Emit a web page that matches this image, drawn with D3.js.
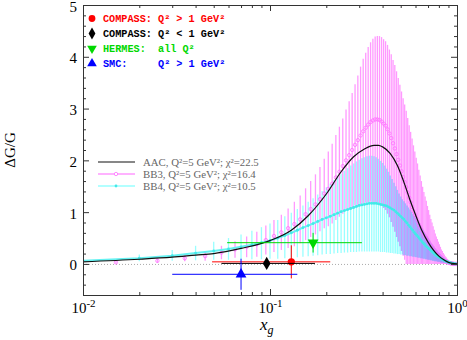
<!DOCTYPE html>
<html>
<head>
<meta charset="utf-8">
<script src="https://cdn.jsdelivr.net/npm/d3@7"></script>
<style>
    body { margin: 0; background: #fff; }
    #chart { width: 467px; height: 340px; }
    .tick text { font-family: "Liberation Serif", "DejaVu Serif", serif; font-size: 15px; fill: #000; }
    .axis line { stroke: #333; }
    .axis path { display: none; }
</style>
</head>
<body>
<div id="chart"></div>
<script>
// ---- AAC curve ----
const aacX = [0.01, 0.02, 0.03, 0.04, 0.05, 0.07, 0.1, 0.13, 0.16, 0.2, 0.24, 0.28, 0.32, 0.36, 0.38, 0.4,
    0.44, 0.48, 0.52, 0.56, 0.6, 0.65, 0.7, 0.75, 0.8, 0.85, 0.9, 0.95, 1.0];
const aacVal = [0.04, 0.09, 0.13, 0.17, 0.2, 0.3, 0.45, 0.65, 0.93, 1.35, 1.78, 2.07, 2.22, 2.29, 2.29, 2.26,
    2.13, 1.9, 1.58, 1.24, 0.95, 0.64, 0.42, 0.26, 0.15, 0.08, 0.03, 0.01, 0];

// ---- BB3 (central value + error) ----
const bb3X = [0.015, 0.025, 0.035, 0.045, 0.055, 0.065, 0.075, 0.085, 0.095, 0.105,
    0.115, 0.125, 0.135, 0.145, 0.155, 0.165, 0.175, 0.185, 0.195, 0.205,
    0.215, 0.225, 0.235, 0.245, 0.255, 0.265, 0.275, 0.285, 0.295, 0.305,
    0.315, 0.325, 0.335, 0.345, 0.355, 0.365, 0.375, 0.385, 0.395, 0.405,
    0.415, 0.425, 0.435, 0.445, 0.455, 0.465, 0.475, 0.485, 0.495, 0.505,
    0.515, 0.525, 0.535, 0.545, 0.555, 0.565, 0.575, 0.585, 0.595, 0.605,
    0.615, 0.625, 0.635, 0.645, 0.655, 0.665, 0.675, 0.685, 0.695, 0.705,
    0.715, 0.725, 0.735, 0.745, 0.755, 0.765, 0.775, 0.785, 0.795, 0.805,
    0.815, 0.825, 0.835, 0.845, 0.855, 0.865, 0.875, 0.885, 0.895, 0.905,
    0.915, 0.925, 0.935, 0.945, 0.955, 0.965, 0.975, 0.985, 0.995];
const bb3Mid = [0.03, 0.06, 0.11, 0.15, 0.22, 0.28, 0.33, 0.38, 0.46, 0.54,
    0.61, 0.69, 0.77, 0.86, 0.96, 1.06, 1.15, 1.25, 1.36, 1.45,
    1.55, 1.67, 1.78, 1.89, 2.00, 2.10, 2.20, 2.30, 2.39, 2.48,
    2.56, 2.63, 2.69, 2.74, 2.77, 2.79, 2.79, 2.78, 2.75, 2.71,
    2.67, 2.60, 2.52, 2.43, 2.33, 2.23, 2.12, 2.01, 1.90, 1.79,
    1.68, 1.58, 1.48, 1.38, 1.28, 1.19, 1.10, 1.02, 0.95, 0.88,
    0.82, 0.76, 0.71, 0.66, 0.61, 0.57, 0.53, 0.50, 0.46, 0.43,
    0.39, 0.36, 0.33, 0.30, 0.27, 0.24, 0.21, 0.19, 0.17, 0.15,
    0.13, 0.11, 0.10, 0.08, 0.07, 0.06, 0.05, 0.04, 0.03, 0.02,
    0.02, 0.01, 0.01, 0.01, 0, 0, 0, 0, 0];
const bb3Err = [0.02, 0.04, 0.06, 0.09, 0.13, 0.16, 0.20, 0.24, 0.28, 0.31,
    0.34, 0.38, 0.43, 0.46, 0.50, 0.54, 0.58, 0.62, 0.67, 0.72,
    0.77, 0.82, 0.87, 0.92, 0.98, 1.04, 1.10, 1.17, 1.25, 1.33,
    1.40, 1.45, 1.50, 1.54, 1.58, 1.60, 1.61, 1.62, 1.63, 1.63,
    1.63, 1.63, 1.62, 1.62, 1.61, 1.61, 1.60, 1.58, 1.56, 1.54,
    1.52, 1.50, 1.48, 1.44, 1.40, 1.36, 1.32, 1.27, 1.22, 1.17,
    1.12, 1.06, 1.00, 0.94, 0.88, 0.82, 0.77, 0.72, 0.66, 0.61,
    0.56, 0.51, 0.47, 0.43, 0.39, 0.35, 0.32, 0.29, 0.26, 0.23,
    0.20, 0.17, 0.15, 0.13, 0.11, 0.09, 0.08, 0.06, 0.05, 0.04,
    0.03, 0.02, 0.02, 0.01, 0.01, 0.01, 0, 0, 0];

// ---- BB4 (central value, upper and lower edge) ----
const bb4X = [0.01, 0.02, 0.03, 0.04, 0.05, 0.06, 0.07, 0.08, 0.09, 0.10,
    0.11, 0.12, 0.13, 0.14, 0.15, 0.16, 0.17, 0.18, 0.19, 0.20,
    0.21, 0.22, 0.23, 0.24, 0.25, 0.26, 0.27, 0.28, 0.29, 0.30,
    0.31, 0.32, 0.33, 0.34, 0.35, 0.36, 0.37, 0.38, 0.39, 0.40,
    0.41, 0.42, 0.43, 0.44, 0.45, 0.46, 0.47, 0.48, 0.49, 0.50,
    0.51, 0.52, 0.53, 0.54, 0.55, 0.56, 0.57, 0.58, 0.59, 0.60,
    0.61, 0.62, 0.63, 0.64, 0.65, 0.66, 0.67, 0.68, 0.69, 0.70,
    0.71, 0.72, 0.73, 0.74, 0.75, 0.76, 0.77, 0.78, 0.79, 0.80,
    0.81, 0.82, 0.83, 0.84, 0.85, 0.86, 0.87, 0.88, 0.89, 0.90,
    0.91, 0.92, 0.93, 0.94, 0.95, 0.96, 0.97, 0.98, 0.99];
const bb4Mid = [0.06, 0.11, 0.16, 0.21, 0.25, 0.29, 0.33, 0.37, 0.41, 0.45,
    0.50, 0.55, 0.60, 0.65, 0.70, 0.74, 0.78, 0.82, 0.86, 0.89,
    0.92, 0.95, 0.98, 1.01, 1.03, 1.05, 1.07, 1.09, 1.11, 1.13,
    1.14, 1.15, 1.16, 1.17, 1.17, 1.17, 1.17, 1.16, 1.15, 1.14,
    1.13, 1.12, 1.10, 1.08, 1.06, 1.04, 1.01, 0.98, 0.95, 0.92,
    0.89, 0.86, 0.82, 0.79, 0.75, 0.72, 0.68, 0.65, 0.61, 0.58,
    0.55, 0.52, 0.49, 0.46, 0.43, 0.40, 0.38, 0.35, 0.33, 0.31,
    0.29, 0.27, 0.25, 0.23, 0.21, 0.19, 0.17, 0.16, 0.14, 0.13,
    0.12, 0.10, 0.09, 0.08, 0.07, 0.06, 0.05, 0.05, 0.04, 0.03,
    0.03, 0.02, 0.02, 0.01, 0.01, 0.01, 0, 0, 0];
const bb4Hi = [0.09, 0.18, 0.27, 0.35, 0.43, 0.50, 0.57, 0.64, 0.71, 0.78,
    0.85, 0.92, 0.99, 1.06, 1.13, 1.20, 1.27, 1.34, 1.41, 1.48,
    1.55, 1.62, 1.68, 1.74, 1.80, 1.85, 1.90, 1.94, 1.98, 2.01,
    2.04, 2.06, 2.08, 2.09, 2.09, 2.08, 2.06, 2.03, 1.99, 1.95,
    1.90, 1.84, 1.78, 1.71, 1.64, 1.57, 1.50, 1.43, 1.36, 1.30,
    1.25, 1.21, 1.17, 1.13, 1.09, 1.05, 1.01, 0.97, 0.93, 0.89,
    0.85, 0.81, 0.77, 0.73, 0.69, 0.65, 0.61, 0.57, 0.53, 0.50,
    0.46, 0.43, 0.40, 0.37, 0.34, 0.31, 0.28, 0.26, 0.23, 0.21,
    0.19, 0.17, 0.15, 0.13, 0.12, 0.10, 0.09, 0.07, 0.06, 0.05,
    0.04, 0.03, 0.03, 0.02, 0.02, 0.01, 0.01, 0, 0];
const bb4Lo = [0.03, 0.05, 0.06, 0.07, 0.08, 0.08, 0.09, 0.09, 0.09, 0.10,
    0.10, 0.11, 0.12, 0.13, 0.14, 0.15, 0.16, 0.17, 0.18, 0.19,
    0.19, 0.20, 0.21, 0.21, 0.22, 0.22, 0.23, 0.23, 0.23, 0.24,
    0.24, 0.24, 0.24, 0.24, 0.24, 0.24, 0.24, 0.24, 0.23, 0.23,
    0.23, 0.22, 0.22, 0.21, 0.21, 0.20, 0.20, 0.19, 0.19, 0.18,
    0.18, 0.17, 0.17, 0.16, 0.16, 0.15, 0.15, 0.14, 0.14, 0.13,
    0.13, 0.12, 0.12, 0.11, 0.11, 0.10, 0.10, 0.09, 0.09, 0.08,
    0.08, 0.07, 0.07, 0.06, 0.06, 0.05, 0.05, 0.05, 0.04, 0.04,
    0.04, 0.03, 0.03, 0.03, 0.02, 0.02, 0.02, 0.02, 0.01, 0.01,
    0.01, 0.01, 0.01, 0, 0, 0, 0, 0, 0];

// ---- measurements ----
const expNames = ["COMPASS high", "COMPASS low", "HERMES", "SMC"];
const expX = [0.13, 0.096, 0.17, 0.07];
const expXLo = [0.049, 0.055, 0.059, 0.030];
const expXHi = [0.21, 0.174, 0.31, 0.14];
const expY = [0.04, 0.01, 0.41, -0.2];
const expErr = [0.32, 0.09, 0.19, 0.30];
const expColors = ["#ff0000", "#000000", "#00d800", "#0000ff"];
const expSymbols = ["circle", "diamond", "down", "up"];
const expLegend = ["COMPASS: Q² > 1 GeV²", "COMPASS: Q² < 1 GeV²", "HERMES:  all Q²", "SMC:     Q² > 1 GeV²"];

const fitLegend = ["AAC, Q²=5 GeV²; χ²=22.5", "BB3, Q²=5 GeV²; χ²=16.4", "BB4, Q²=5 GeV²; χ²=10.5"];

// ---- ticks ----
const xMajor = [0.01, 0.1, 1];
const xExp = ["-2", "-1", "0"];
const xMinor = [0.02, 0.03, 0.04, 0.05, 0.06, 0.07, 0.08, 0.09, 0.2, 0.3, 0.4, 0.5, 0.6, 0.7, 0.8, 0.9];
const yMajor = [0, 1, 2, 3, 4, 5];
const yMinor = [-0.4, -0.2, 0.2, 0.4, 0.6, 0.8, 1.2, 1.4, 1.6, 1.8, 2.2, 2.4, 2.6, 2.8,
    3.2, 3.4, 3.6, 3.8, 4.2, 4.4, 4.6, 4.8];

class DeltaGChart {
    constructor(parentElement) {
        this.parentElement = parentElement;
        this.initVis();
    }

    initVis() {
        let vis = this;

        vis.margin = {top: 5, right: 10, bottom: 45, left: 83};
        vis.width = 467 - vis.margin.left - vis.margin.right;
        vis.height = 340 - vis.margin.top - vis.margin.bottom;

        vis.root = d3.select("#" + vis.parentElement).append("svg")
            .attr("width", 467)
            .attr("height", 340);

        vis.svg = vis.root.append("g")
            .attr("transform", `translate(${vis.margin.left}, ${vis.margin.top})`);

        vis.x = d3.scaleLog().domain([0.01, 1]).range([0, vis.width]);
        vis.y = d3.scaleLinear().domain([-0.6, 5]).range([vis.height, 0]);

        vis.svg.append("clipPath").attr("id", "plotClip")
            .append("rect").attr("width", vis.width).attr("height", vis.height);

        vis.plot = vis.svg.append("g").attr("clip-path", "url(#plotClip)");

        vis.wrangleData();
    }

    wrangleData() {
        let vis = this;
        vis.aac = aacX.map((x, i) => ({x: x, v: aacVal[i]}));
        vis.bb3 = bb3X.map((x, i) => ({x: x, v: bb3Mid[i], lo: Math.max(0, bb3Mid[i] - bb3Err[i]), hi: bb3Mid[i] + bb3Err[i]}));
        vis.bb4 = bb4X.map((x, i) => ({x: x, v: bb4Mid[i], lo: bb4Lo[i], hi: bb4Hi[i]}));
        vis.points = expNames.map((n, i) => ({
            name: n, x: expX[i], xlo: expXLo[i], xhi: expXHi[i], y: expY[i], err: expErr[i],
            color: expColors[i], sym: expSymbols[i]
        }));
        vis.updateVis();
    }

    symbolPath(sym, size) {
        if (sym === "circle") return d3.symbol(d3.symbolCircle, size)();
        if (sym === "diamond") return d3.symbol(d3.symbolDiamond, size)();
        return d3.symbol(d3.symbolTriangle, size)();
    }

    // hatched error band: one vertical line per point
    drawBand(data, lineColor) {
        let vis = this;
        vis.plot.append("g")
            .style("mix-blend-mode", "multiply")
            .selectAll("line")
            .data(data)
            .enter()
            .append("line")
            .attr("x1", d => vis.x(d.x))
            .attr("x2", d => vis.x(d.x))
            .attr("y1", d => vis.y(d.lo))
            .attr("y2", d => vis.y(d.hi))
            .attr("stroke", lineColor)
            .attr("stroke-width", 1.3);
    }

    updateVis() {
        let vis = this;

        // zero line
        vis.plot.append("line")
            .attr("x1", 0).attr("x2", vis.width)
            .attr("y1", vis.y(0) + 0.5).attr("y2", vis.y(0) + 0.5)
            .attr("stroke", "#aaa")
            .attr("stroke-dasharray", "1,2");

        // error bands
        vis.drawBand(vis.bb3, "#ff99ff");
        vis.drawBand(vis.bb4, "#99ffff");

        // BB3 central values
        vis.plot.append("g").selectAll("circle")
            .data(vis.bb3)
            .enter()
            .append("circle")
            .attr("cx", d => vis.x(d.x))
            .attr("cy", d => vis.y(d.v))
            .attr("r", 1.7)
            .attr("fill", "none")
            .attr("stroke", "#ff70ff")
            .attr("stroke-width", 0.8);

        // BB4 central values
        vis.plot.append("path")
            .datum(vis.bb4)
            .attr("fill", "none")
            .attr("stroke", "#66f2f2")
            .attr("stroke-width", 2)
            .attr("d", d3.line().x(d => vis.x(d.x)).y(d => vis.y(d.v)));
        vis.plot.append("g").selectAll("circle")
            .data(vis.bb4)
            .enter()
            .append("circle")
            .attr("cx", d => vis.x(d.x))
            .attr("cy", d => vis.y(d.v))
            .attr("r", 1.4)
            .attr("fill", "#44e8e8");

        // AAC
        vis.plot.append("path")
            .datum(vis.aac)
            .attr("fill", "none")
            .attr("stroke", "#111")
            .attr("stroke-width", 1.2)
            .attr("d", d3.line().curve(d3.curveMonotoneX).x(d => vis.x(d.x)).y(d => vis.y(d.v)));

        // measurements
        let pts = vis.svg.append("g").selectAll("g")
            .data(vis.points)
            .enter()
            .append("g");
        pts.append("line")
            .attr("x1", d => vis.x(d.xlo)).attr("x2", d => vis.x(d.xhi))
            .attr("y1", d => vis.y(d.y)).attr("y2", d => vis.y(d.y))
            .attr("stroke", d => d.color).attr("stroke-width", 1);
        pts.append("line")
            .attr("x1", d => vis.x(d.x)).attr("x2", d => vis.x(d.x))
            .attr("y1", d => vis.y(d.y - d.err)).attr("y2", d => vis.y(d.y + d.err))
            .attr("stroke", d => d.color).attr("stroke-width", 1);
        pts.append("path")
            .attr("d", d => vis.symbolPath(d.sym, d.sym === "circle" ? 42 : 50))
            .attr("transform", d => `translate(${vis.x(d.x)}, ${vis.y(d.y)}) rotate(${d.sym === "down" ? 180 : 0})`)
            .attr("fill", d => d.color);

        // frame and axes
        vis.svg.append("rect")
            .attr("x", 0.5).attr("y", 0.5)
            .attr("width", vis.width).attr("height", vis.height)
            .attr("fill", "none").attr("stroke", "#333");

        let axis = (gen, ticks, size, tx, ty) => vis.svg.append("g")
            .attr("class", "axis")
            .attr("transform", `translate(${tx}, ${ty})`)
            .call(gen.tickValues(ticks).tickSizeInner(-size).tickSizeOuter(0).tickFormat(""));

        axis(d3.axisBottom(vis.x), xMinor, 3, 0, vis.height);
        axis(d3.axisTop(vis.x), xMinor, 3, 0, 0);
        axis(d3.axisTop(vis.x), xMajor, 6, 0, 0);
        axis(d3.axisLeft(vis.y), yMinor, 3, 0, 0);
        axis(d3.axisRight(vis.y), yMinor, 3, vis.width, 0);
        axis(d3.axisRight(vis.y), yMajor, 6, vis.width, 0);

        vis.svg.append("g")
            .attr("class", "axis")
            .attr("transform", `translate(0, ${vis.height})`)
            .call(d3.axisBottom(vis.x).tickValues(xMajor).tickSizeInner(-6).tickSizeOuter(0).tickPadding(0))
            .selectAll(".tick text")
            .attr("y", 18).attr("dy", 0)
            .each(function (d, i) {
                let t = d3.select(this).text(null);
                t.append("tspan").text("10");
                t.append("tspan").attr("dy", -6).attr("font-size", 11).text(xExp[i]);
            });

        vis.svg.append("g")
            .attr("class", "axis")
            .call(d3.axisLeft(vis.y).tickValues(yMajor).tickFormat(d3.format("d"))
                .tickSizeInner(-6).tickSizeOuter(0).tickPadding(6))
            .selectAll(".tick text")
            .attr("dy", "0.4em");

        // axis titles
        vis.root.append("text")
            .attr("transform", "translate(15, 150) rotate(-90)")
            .attr("text-anchor", "middle")
            .attr("font-family", "Liberation Serif, serif")
            .attr("font-size", 15)
            .text("ΔG/G");

        let xt = vis.root.append("text")
            .attr("x", 260).attr("y", 330)
            .attr("font-family", "Liberation Serif, serif")
            .attr("font-style", "italic")
            .attr("font-size", 17);
        xt.append("tspan").text("x");
        xt.append("tspan").attr("dy", 4).attr("font-size", 12).text("g");

        // legend: measurements
        let leg1 = vis.root.append("g").selectAll("g")
            .data(vis.points)
            .enter()
            .append("g")
            .attr("transform", (d, i) => `translate(92, ${18.5 + i * 15})`);
        leg1.append("path")
            .attr("d", d => vis.symbolPath(d.sym, d.sym === "circle" ? 36 : 40))
            .attr("transform", d => d.sym === "down" ? "rotate(180)" : null)
            .attr("fill", d => d.color);
        leg1.append("text")
            .attr("x", 11).attr("y", 3.5)
            .attr("xml:space", "preserve")
            .style("white-space", "pre")
            .attr("font-family", "Liberation Mono, monospace")
            .attr("font-weight", "bold")
            .attr("font-size", 10.2)
            .attr("fill", d => d.color)
            .text((d, i) => expLegend[i]);

        // legend: fits
        let leg2 = vis.root.append("g").selectAll("g")
            .data(fitLegend)
            .enter()
            .append("g")
            .attr("transform", (d, i) => `translate(98, ${162 + i * 12})`);
        leg2.append("line")
            .attr("x1", 0).attr("x2", 37).attr("y1", 0).attr("y2", 0)
            .attr("stroke", (d, i) => ["#111", "#ff99ff", "#99ffff"][i])
            .attr("stroke-width", (d, i) => i === 0 ? 1.2 : 1.5);
        leg2.filter((d, i) => i === 1).append("circle")
            .attr("cx", 18).attr("r", 1.7)
            .attr("fill", "#fff").attr("stroke", "#ff70ff").attr("stroke-width", 0.8);
        leg2.filter((d, i) => i === 2).append("circle")
            .attr("cx", 18).attr("r", 1.4).attr("fill", "#44e8e8");
        leg2.append("text")
            .attr("x", 45).attr("y", 3.5)
            .attr("font-family", "Liberation Serif, serif")
            .attr("font-size", 10.8)
            .attr("fill", "#666")
            .text(d => d);
    }
}

new DeltaGChart("chart");
</script>
</body>
</html>
